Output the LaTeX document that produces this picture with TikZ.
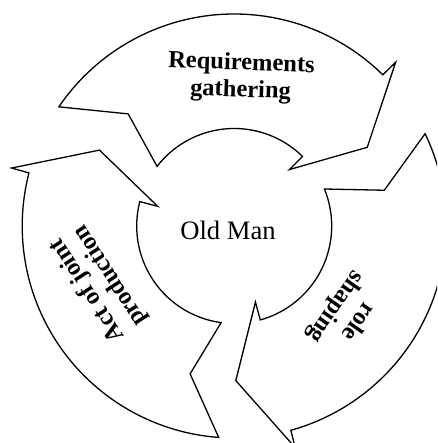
\documentclass[tikz,border=0pt]{standalone}
\usepackage{fontspec}
\setmainfont{Liberation Serif}
\begin{document}
\begin{tikzpicture}[x=1pt,y=1pt,
  cyclearrow/.style={draw=black, line width=1.3pt, fill=white, line join=miter},
  steplabel/.style={font=\bfseries\fontsize{24.5}{27}\selectfont, align=center, inner sep=0pt},
  hublabel/.style={font=\fontsize{26.6}{30}\selectfont, inner sep=0pt, anchor=base}]
  % page frame, hub centre at the origin
  \useasboundingbox (-234.2,-217) rectangle (202.8,226);
  \clip (-234.2,-217) rectangle (202.8,226);
  \fill[white] (-234.2,-217) rectangle (202.8,226);

  % one curved arrow of the cycle: outer arc, head, inner arc, notched tail
  \newcommand{\cyclearrowpath}{%
    (145.8:212) arc[start angle=145.8, end angle=45.5, radius=212]
    -- (45.4:230) -- (30.6:154.6) -- (45.6:79) -- (45.5:97.5)
    arc[start angle=45.5, end angle=142.3, radius=97.5]
    -- (133.4:154.3) -- cycle}

  \draw[cyclearrow] \cyclearrowpath;
  \begin{scope}[rotate=120]
    \draw[cyclearrow] \cyclearrowpath;
  \end{scope}
  \begin{scope}[rotate=240]
    \draw[cyclearrow] \cyclearrowpath;
  \end{scope}

  % labels
  \node[steplabel, rotate=-2] (gather) at (6.8,148.5) {Requirements\\gathering};
  \node[steplabel, rotate=123] (joint) at (-135.2,-57) {Act of joint\\production};
  \node[steplabel, rotate=235] (role) at (112.1,-87.9) {role\\shaping};
  \node[hublabel] (hub) at (-6.2,-13.3) {Old Man};
\end{tikzpicture}
\end{document}
